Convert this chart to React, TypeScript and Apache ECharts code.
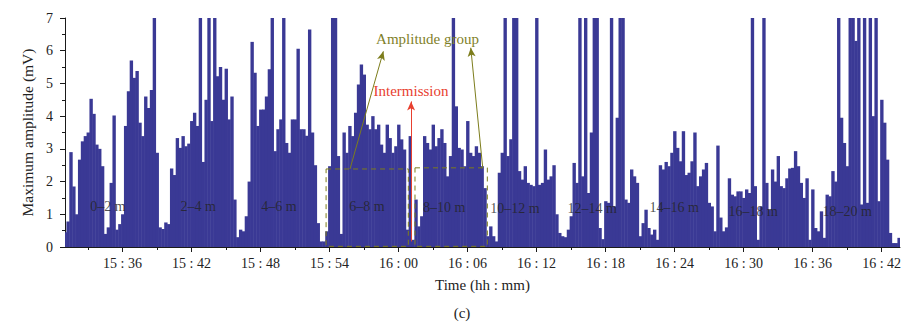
import React, { useEffect, useRef } from "react";
import * as echarts from "echarts";

// Time axis in minutes since midnight (15:31 .. ~16:43.6)
const startMinute = 931;
const stepMinutes = 0.25;
const axisMin = 931;
const axisMax = 1003.6;

// Maximum amplitude (mV), one value per 0.25 min sample
const amplitude = [
  0.45, 0.78, 2.9, 1.85, 1.0, 2.67, 3.23, 3.39, 3.5, 4.53,
  4.07, 3.13, 3.0, 2.47, 0.4, 0.6, 1.96, 4.02, 0.53, 0.7,
  1.0, 3.7, 4.76, 5.7, 5.17, 5.38, 3.8, 3.39, 4.6, 4.25,
  4.8, 7, 2.88, 0.6, 0.55, 0.75, 0.7, 2.4, 2.2, 3.33,
  3.03, 3.39, 3.08, 3.16, 3.85, 4.1, 3.7, 7, 2.6, 4.5,
  7, 3.85, 7, 5.22, 5.5, 4.5, 5.45, 3.9, 4.6, 1.45,
  0.3, 0.53, 0.48, 0.94, 2.0, 6.27, 5.33, 3.7, 4.2, 4.2,
  4.6, 5.43, 7, 2.93, 3.6, 3.9, 7, 3.18, 2.88, 3.9,
  3.9, 6.06, 3.6, 3.6, 3.4, 6.65, 3.5, 2.5, 0.73, 0.17,
  0.17, 0.48, 2.47, 7, 7, 2.78, 0.4, 3.5, 2.88, 3.7,
  3.39, 4.1, 4.97, 5.58, 5.27, 3.74, 3.6, 4.0, 3.6, 3.74,
  3.13, 2.88, 3.74, 3.33, 2.88, 3.08, 3.74, 3.29, 2.98, 0.53,
  3.39, 0.22, 1.45, 0.63, 0.94, 3.39, 3.18, 2.98, 3.74, 3.08,
  3.33, 3.6, 3.18, 2.16, 2.78, 7, 4.3, 3.03, 2.98, 2.47,
  3.85, 2.88, 2.78, 3.08, 2.88, 2.47, 1.8, 0.33, 0.63, 0.33,
  0.17, 2.27, 2.88, 7, 2.78, 3.29, 7, 7, 2.32, 2.06,
  2.47, 1.96, 1.9, 1.86, 7, 1.9, 1.96, 2.98, 2.06, 2.16,
  2.5, 1.0, 0.43, 0.33, 0.3, 0.53, 0.94, 2.57, 1.96, 7,
  2.16, 7, 1.65, 3.5, 7, 7, 0.58, 0.24, 1.4, 1.35,
  7, 1.24, 3.95, 7, 7, 1.45, 1.35, 2.37, 2.16, 1.96,
  0.33, 0.73, 1.14, 0.58, 0.38, 0.53, 0.22, 2.5, 2.37, 2.6,
  2.47, 2.88, 3.54, 3.03, 2.62, 3.54, 2.2, 2.27, 2.62, 3.5,
  1.86, 2.16, 2.37, 2.57, 1.35, 1.24, 0.48, 3.1, 0.9, 0.48,
  0.6, 2.1, 1.6, 1.55, 1.7, 1.7, 1.5, 1.76, 1.65, 7,
  1.86, 0.22, 1.24, 7, 1.96, 1.14, 2.37, 2.0, 2.78, 1.86,
  1.8, 2.1, 2.4, 2.42, 2.93, 2.47, 1.96, 1.5, 2.1, 0.22,
  1.76, 0.58, 0.48, 1.09, 0.28, 1.6, 1.55, 2.32, 2.0, 7,
  3.95, 3.18, 2.47, 7, 7, 6.3, 7, 1.3, 7, 1.35,
  7, 4.0, 7, 1.4, 4.5, 3.8, 2.67, 0.43, 0.12, 0.12,
  0.28,
];

// Axis ticks (minutes)
const majorTicks = [936, 942, 948, 954, 960, 966, 972, 978, 984, 990, 996, 1002];
const minorTicks = [933, 939, 945, 951, 957, 963, 969, 975, 981, 987, 993, 999];

// Distance-segment labels
const segmentLabels = ["0–2 m", "2–4 m", "4–6 m", "6–8 m", "8–10 m", "10–12 m", "12–14 m", "14–16 m", "16–18 m", "18–20 m"];
const segmentTimes = [934.74, 942.57, 949.6, 957.26, 963.96, 970.13, 976.83, 983.96, 990.83, 999.0];
const segmentValues = [1.23, 1.23, 1.23, 1.23, 1.2, 1.17, 1.17, 1.2, 1.1, 1.07];

// Amplitude-group boxes: start time, end time, bottom, top
const boxStart = [953.7, 961.43];
const boxEnd = [960.85, 967.72];
const boxBottom = [0.02, 0.02];
const boxTop = [2.385, 2.42];

// Arrows [t0, v0, t1, v1]
const groupArrows = [
  [955.78, 2.385, 958.68, 5.98],
  [967.32, 2.42, 966.28, 6.09],
];
const intermissionArrow = [961.09, 0.17, 961.09, 4.45];

const FONT = "'Liberation Serif', 'DejaVu Serif', 'Times New Roman', serif";
const BAR = "#3a3995";
const OLIVE = "#7d7d1c";
const RED = "#e8402f";
const AXIS = "#1a1a1a";

function fmtTime(v: number): string {
  const h = Math.floor(v / 60);
  const m = Math.round(v - h * 60);
  return `${h} : ${String(m).padStart(2, "0")}`;
}

export default function App() {
  const ref = useRef<HTMLDivElement>(null);
  useEffect(() => {
    if (!ref.current) return;
    const chart = echarts.init(ref.current, undefined, { renderer: "svg" });
    const barData = amplitude.map((v, i) => [startMinute + i * stepMinutes, v]);
    const boxData = boxStart.map((s, i) => [s, boxEnd[i], boxBottom[i], boxTop[i]]);
    const option: any = {
      animation: false,
      backgroundColor: "#ffffff",
      grid: { left: 65, right: 16, top: 18, bottom: 81 },
      xAxis: [
        {
          type: "value",
          min: axisMin,
          max: axisMax,
          axisLine: { show: true, lineStyle: { color: AXIS, width: 1 } },
          axisTick: { show: true, customValues: majorTicks, length: 5, lineStyle: { color: AXIS } },
          axisLabel: {
            show: true,
            customValues: majorTicks,
            formatter: (v: number) => fmtTime(v),
            fontFamily: FONT,
            fontSize: 14,
            color: "#222",
            margin: 9,
          },
          splitLine: { show: false },
          name: "Time (hh : mm)",
          nameLocation: "middle",
          nameGap: 30,
          nameTextStyle: { fontFamily: FONT, fontSize: 15, color: "#222" },
        },
        {
          type: "value",
          min: axisMin,
          max: axisMax,
          position: "bottom",
          offset: 0,
          axisLine: { show: false },
          axisTick: { show: true, customValues: minorTicks, length: 3, lineStyle: { color: AXIS } },
          axisLabel: { show: false },
          splitLine: { show: false },
        },
      ],
      yAxis: {
        type: "value",
        min: 0,
        max: 7,
        interval: 1,
        axisLine: { show: true, lineStyle: { color: AXIS, width: 1 } },
        axisTick: { show: true, length: 5, lineStyle: { color: AXIS } },
        minorTick: { show: true, splitNumber: 2, length: 3, lineStyle: { color: AXIS } },
        splitLine: { show: false },
        minorSplitLine: { show: false },
        axisLabel: {
          fontFamily: FONT,
          fontSize: 14,
          color: "#222",
          margin: 12,
        },
        name: "Maximum amplitude (mV)",
        nameLocation: "middle",
        nameGap: 30,
        nameRotate: 90,
        nameTextStyle: { fontFamily: FONT, fontSize: 15.5, color: "#222" },
      },
      series: [
        {
          type: "custom",
          xAxisIndex: 0,
          data: barData,
          silent: true,
          z: 2,
          renderItem: (params: any, api: any) => {
            const t = api.value(0);
            const v = api.value(1);
            const p0 = api.coord([t - stepMinutes / 2, v]);
            const p1 = api.coord([t + stepMinutes / 2, 0]);
            const cs = params.coordSys;
            const shape = echarts.graphic.clipRectByRect(
              { x: p0[0], y: p0[1], width: p1[0] - p0[0] + 0.5, height: p1[1] - p0[1] },
              { x: cs.x, y: cs.y, width: cs.width, height: cs.height }
            );
            if (!shape) return null;
            return { type: "rect", shape, style: { fill: BAR } };
          },
        },
        {
          type: "custom",
          xAxisIndex: 0,
          data: boxData,
          silent: true,
          z: 8,
          renderItem: (params: any, api: any) => {
            const p0 = api.coord([api.value(0), api.value(3)]);
            const p1 = api.coord([api.value(1), api.value(2)]);
            return {
              type: "rect",
              shape: { x: p0[0], y: p0[1], width: p1[0] - p0[0], height: p1[1] - p0[1] },
              style: { fill: "none", stroke: OLIVE, lineWidth: 1, lineDash: [5, 4] },
            };
          },
        },
        {
          type: "scatter",
          xAxisIndex: 0,
          symbolSize: 1,
          itemStyle: { color: "rgba(0,0,0,0)" },
          silent: true,
          z: 9,
          data: segmentLabels.map((name, i) => ({ name, value: [segmentTimes[i], segmentValues[i]] })),
          label: {
            show: true,
            position: "inside",
            formatter: "{b}",
            fontFamily: FONT,
            fontSize: 14,
            color: "#232323",
          },
          markLine: {
            silent: true,
            symbol: ["none", "arrow"],
            symbolSize: [6, 9],
            label: { show: false },
            lineStyle: { type: "solid", width: 1 },
            data: [
              ...groupArrows.map((a) => [
                { coord: [a[0], a[1]], lineStyle: { color: OLIVE, type: "solid", width: 1 }, itemStyle: { color: OLIVE } },
                { coord: [a[2], a[3]] },
              ]),
              [
                { coord: [intermissionArrow[0], intermissionArrow[1]], lineStyle: { color: RED, type: "solid", width: 1 }, itemStyle: { color: RED } },
                { coord: [intermissionArrow[2], intermissionArrow[3]] },
              ],
            ],
          },
        },
      ],
      graphic: [
        {
          type: "text",
          x: 427.5,
          y: 39,
          style: { text: "Amplitude group", fontFamily: FONT, fontSize: 15, fill: "#7f7f2a", align: "center", verticalAlign: "middle" },
          z: 10,
        },
        {
          type: "text",
          x: 411,
          y: 91,
          style: { text: "Intermission", fontFamily: FONT, fontSize: 15, fill: RED, align: "center", verticalAlign: "middle" },
          z: 10,
        },
        {
          type: "text",
          x: 462,
          y: 313,
          style: { text: "(c)", fontFamily: FONT, fontSize: 15, fill: "#222", align: "center", verticalAlign: "middle" },
          z: 10,
        },
      ],
    };
    chart.setOption(option);
    return () => chart.dispose();
  }, []);
  return (
    <div
      ref={ref}
      style={{ position: "fixed", left: 0, top: 0, width: 916, height: 328, background: "#fff" }}
    />
  );
}
